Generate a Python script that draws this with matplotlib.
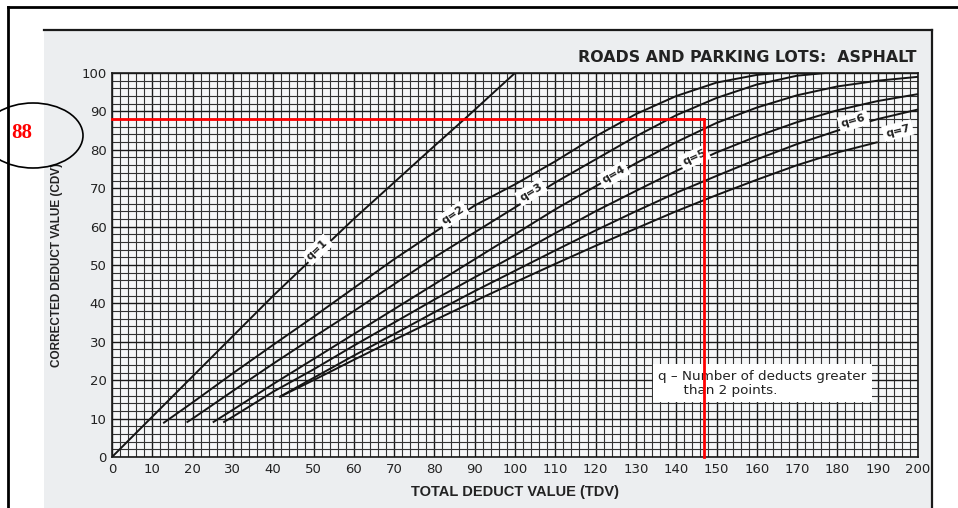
import numpy as np
import matplotlib.pyplot as plt
from matplotlib.patches import Rectangle, Ellipse
from matplotlib.lines import Line2D

W, H = 958, 508

# curve readings (TDV, CDV) for q = 1..7
q1_tdv = [0, 20, 40, 60, 80, 88, 100]
q1_cdv = [0, 21, 42, 62, 81, 88.5, 100]
q2_tdv = [12.7, 20, 30, 40, 50, 60, 70, 80, 90, 100, 110, 120, 130, 140, 150, 160, 165]
q2_cdv = [8.8, 14.2, 21.8, 29.2, 36.5, 44, 51.5, 58.5, 65.5, 71, 77, 83.5, 89.3, 94, 97.5, 99.5, 100]
q3_tdv = [18.5, 20, 30, 40, 50, 60, 70, 80, 90, 100, 110, 120, 130, 140, 150, 160, 170, 177]
q3_cdv = [9, 10, 17.2, 24.3, 31.2, 38, 45, 52, 58.5, 65, 71.5, 77.5, 83.5, 89, 93.5, 97, 99.3, 100]
q4_tdv = [25, 30, 40, 50, 60, 70, 80, 90, 100, 110, 120, 130, 140, 150, 160, 170, 180, 190, 200]
q4_cdv = [9, 12.3, 19, 25.5, 32, 38.5, 45, 51.5, 58, 64.5, 70.5, 76.5, 82, 87, 91, 94.2, 96.5, 98, 99]
q5_tdv = [27.6, 30, 40, 50, 60, 70, 80, 90, 100, 110, 120, 130, 140, 150, 160, 170, 180, 190, 200]
q5_cdv = [9, 10.5, 17, 22.8, 29, 35, 41, 46.8, 52.5, 58.3, 64, 69.3, 74.5, 79.3, 83.5, 87.2, 90.3, 92.7, 94.5]
q6_tdv = [41.5, 50, 60, 70, 80, 90, 100, 110, 120, 130, 140, 150, 160, 170, 180, 190, 200]
q6_cdv = [15.6, 20.6, 26.4, 32, 37.7, 43.2, 48.5, 53.8, 59, 64, 68.8, 73.2, 77.5, 81.5, 85, 88, 90.5]
q7_tdv = [41.5, 50, 60, 70, 80, 90, 100, 110, 120, 130, 140, 150, 160, 170, 180, 190]
q7_cdv = [15.6, 20, 25.3, 30.5, 35.6, 40.6, 45.5, 50.3, 55, 59.5, 64, 68.2, 72.2, 76, 79.3, 82]

curve_tdv = [q1_tdv, q2_tdv, q3_tdv, q4_tdv, q5_tdv, q6_tdv, q7_tdv]
curve_cdv = [q1_cdv, q2_cdv, q3_cdv, q4_cdv, q5_cdv, q6_cdv, q7_cdv]
curve_names = ["q=1", "q=2", "q=3", "q=4", "q=5", "q=6", "q=7"]
label_tdv = [51, 84.6, 104, 124.5, 144.5, 184, 195]
label_cdv = [54, 63, 69, 73.5, 78, 87.5, 85]

read_tdv = 147
read_cdv = 88

tdv_ticks = list(range(0, 201, 10))
cdv_ticks = list(range(0, 101, 10))

fig = plt.figure(figsize=(W / 100, H / 100), dpi=100)
fig.patch.set_facecolor("white")

# scanned sheet behind the chart
fig.add_artist(Rectangle((44 / W, 0), (932 - 44) / W, 1 - 30 / H, transform=fig.transFigure,
                         facecolor="#eceef0", edgecolor="none", zorder=0))

ax = fig.add_axes([112 / W, 1 - 457 / H, (918 - 112) / W, (457 - 73) / H])
ax.set_facecolor("#f6f7f8")
ax.set_xlim(0, 200)
ax.set_ylim(0, 100)
ax.set_xticks(tdv_ticks)
ax.set_yticks(cdv_ticks)
ax.set_xticks(np.arange(0, 201, 2), minor=True)
ax.set_yticks(np.arange(0, 101, 2), minor=True)
ax.grid(which="minor", color="#333333", linewidth=0.8)
ax.grid(which="major", color="#1a1a1a", linewidth=1.0)
ax.set_axisbelow(True)
ax.tick_params(which="both", length=0, labelsize=9.5, colors="#222222", pad=4)
for s in ax.spines.values():
    s.set_color("#1a1a1a")
    s.set_linewidth(1.2)

ax.set_xlabel("TOTAL DEDUCT VALUE (TDV)", fontsize=10.5, fontweight="bold",
              family="Liberation Sans", color="#222222", labelpad=7)
ax.set_ylabel("CORRECTED DEDUCT VALUE (CDV)", fontsize=8.5, fontweight="bold",
              family="Liberation Sans", color="#222222", labelpad=13)

for t, c in zip(curve_tdv, curve_cdv):
    ax.plot(t, c, color="#151515", linewidth=1.4, solid_capstyle="butt", zorder=3)

fig.canvas.draw()
for name, t, c, lx, ly in zip(curve_names, curve_tdv, curve_cdv, label_tdv, label_cdv):
    i = min(max(np.searchsorted(t, lx), 1), len(t) - 1)
    slope = (c[i] - c[i - 1]) / (t[i] - t[i - 1])
    ang = ax.transData.transform_angles(np.array([np.degrees(np.arctan(slope))]),
                                        np.array([[lx, ly]]))[0]
    ax.text(lx, ly, name, rotation=ang, rotation_mode="anchor", ha="center", va="center",
            fontsize=8, fontweight="bold", family="DejaVu Sans", color="#222222",
            bbox=dict(boxstyle="square,pad=0.25", facecolor="white", edgecolor="none"),
            zorder=4)

ax.text(135.5, 19.2, "q \u2013 Number of deducts greater\n      than 2 points.",
        fontsize=9.7, family="DejaVu Sans", color="#222222", ha="left", va="center",
        linespacing=1.15,
        bbox=dict(boxstyle="square,pad=0.4", facecolor="white", edgecolor="none"), zorder=4)

ax.plot([0, read_tdv], [read_cdv, read_cdv], color="red", linewidth=2, zorder=5, clip_on=False)
ax.plot([read_tdv, read_tdv], [read_cdv, 0], color="red", linewidth=2, zorder=5, clip_on=False)

fig.text(917 / W, 1 - 57 / H, "ROADS AND PARKING LOTS:  ASPHALT", ha="right", va="center",
         fontsize=11.4, fontweight="bold", family="DejaVu Sans", color="#222222")

# white page right of the scan, then frame lines
fig.add_artist(Rectangle((933 / W, 0), (W - 933) / W, 1 - 9 / H, transform=fig.transFigure,
                         facecolor="white", edgecolor="none", zorder=6))
fig.add_artist(Line2D([44 / W, 932 / W], [1 - 30 / H, 1 - 30 / H], transform=fig.transFigure,
                      color="#1a1a1a", linewidth=1.6, zorder=7))
fig.add_artist(Line2D([932 / W, 932 / W], [1 - 30 / H, 0], transform=fig.transFigure,
                      color="#1a1a1a", linewidth=1.6, zorder=7))
fig.add_artist(Line2D([8 / W, 1], [1 - 7 / H, 1 - 7 / H], transform=fig.transFigure,
                      color="black", linewidth=2, zorder=7))
fig.add_artist(Line2D([8 / W, 8 / W], [1 - 7 / H, 0], transform=fig.transFigure,
                      color="black", linewidth=2, zorder=7))

fig.add_artist(Ellipse((33 / W, 1 - 135.5 / H), 100 / W, 65 / H, transform=fig.transFigure,
                       facecolor="none", edgecolor="black", linewidth=1.2, zorder=8))
fig.text(22 / W, 1 - 133 / H, "88", ha="center", va="center", fontsize=15, fontweight="bold",
         family="Liberation Serif", color="red", zorder=9)

fig.savefig("out.png", dpi=100)
